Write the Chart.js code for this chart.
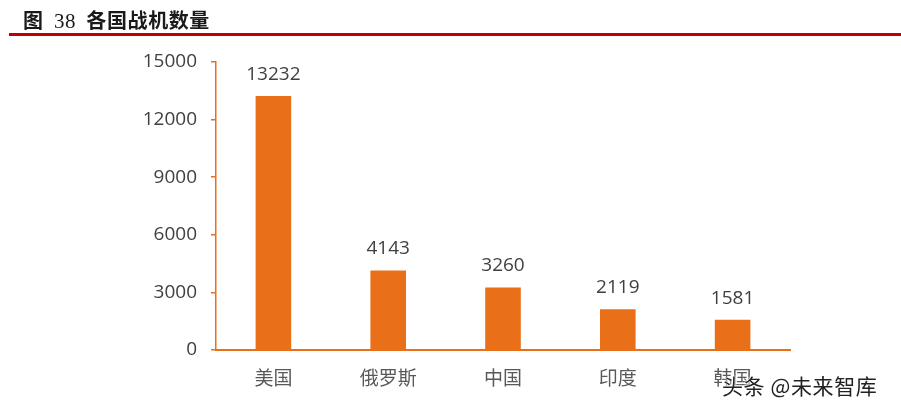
<!DOCTYPE html>
<html><head><meta charset="utf-8">
<script src="https://cdn.jsdelivr.net/npm/chart.js@4"></script>
<style>
html,body{margin:0;padding:0;background:#fff;width:901px;height:413px;overflow:hidden;}
#wrap{position:absolute;left:0;top:0;width:901px;height:413px;}
#title{position:absolute;left:23px;top:5px;font-family:"Noto Sans CJK SC",sans-serif;font-weight:bold;font-size:20px;color:#1a1a1a;white-space:pre;letter-spacing:0.6px;}
#title .num{font-family:"Liberation Serif",serif;font-weight:normal;font-size:21px;}
#rule{position:absolute;left:9px;top:33px;width:892px;height:3px;background:#C00000;}
#wm{position:absolute;left:722px;top:370px;font-family:"Noto Sans CJK SC",sans-serif;font-size:21px;letter-spacing:0.6px;color:#222;text-shadow:0 0 2px #fff,0 0 2px #fff,0 0 3px #fff;}
canvas{position:absolute;left:0;top:0;}
</style></head><body>
<div id="wrap"><canvas id="c" width="901" height="413"></canvas></div>
<div id="title">图  <span class="num">38</span>  各国战机数量</div>
<div id="rule"></div>
<div id="wm">头条 @未来智库</div>
<script>
const categories = ["美国","俄罗斯","中国","印度","韩国"];
const values = [13232, 4143, 3260, 2119, 1581];
const yTicks = [0, 3000, 6000, 9000, 12000, 15000];

const ORANGE = "#E96F18";

const labelPlugin = {
  id: "barLabels",
  afterDatasetsDraw(chart) {
    const ctx = chart.ctx;
    const meta = chart.getDatasetMeta(0);
    ctx.save();
    ctx.font = '19px "Open Sans", "Noto Sans", sans-serif';
    ctx.fillStyle = "#404040";
    ctx.textAlign = "center";
    ctx.textBaseline = "alphabetic";
    meta.data.forEach((bar, i) => {
      ctx.fillText(String(values[i]), bar.x, bar.y - 16);
    });
    ctx.restore();
  }
};

new Chart(document.getElementById("c"), {
  type: "bar",
  data: {
    labels: categories,
    datasets: [{
      data: values,
      backgroundColor: ORANGE,
      borderWidth: 0,
      barPercentage: 0.31,
      categoryPercentage: 1.0
    }]
  },
  options: {
    responsive: false,
    animation: false,
    devicePixelRatio: 1,
    layout: { padding: { top: 62, right: 111, left: 0, bottom: 0 } },
    plugins: { legend: { display: false }, tooltip: { enabled: false } },
    scales: {
      x: {
        grid: { display: false },
        border: { display: true, color: ORANGE, width: 2 },
        ticks: { color: "#595959", padding: 8, font: { family: '"Noto Sans CJK SC", sans-serif', size: 19 } },
        afterFit(scale) { scale.height = 63; }
      },
      y: {
        min: 0, max: 15000,
        afterBuildTicks(scale) { scale.ticks = yTicks.map(v => ({ value: v })); },
        grid: { display: true, drawOnChartArea: false, drawTicks: true, tickLength: 5, color: ORANGE, lineWidth: 1.5 },
        border: { display: true, color: ORANGE, width: 1.5 },
        ticks: { color: "#404040", padding: 14, font: { family: '"Open Sans", "Noto Sans", sans-serif', size: 19 },
                 callback: v => String(v) },
        afterFit(scale) { scale.width = 216; }
      }
    }
  },
  plugins: [labelPlugin]
});
</script>
</body></html>
